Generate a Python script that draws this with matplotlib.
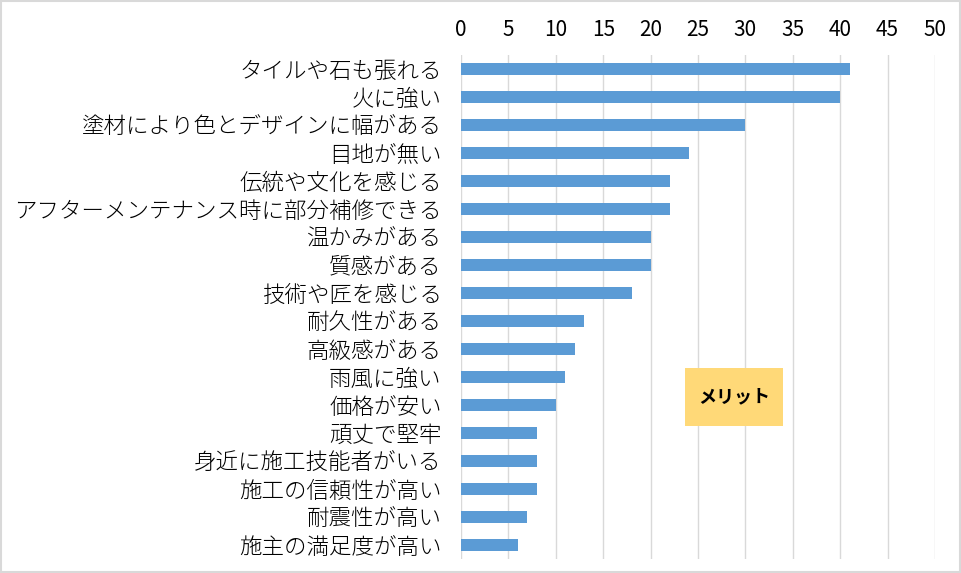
import matplotlib.pyplot as plt
from matplotlib.patches import Rectangle

plt.rcParams['font.family'] = ['Noto Sans CJK JP', 'DejaVu Sans']

labels = [
    "タイルや石も張れる", "火に強い", "塗材により色とデザインに幅がある", "目地が無い",
    "伝統や文化を感じる", "アフターメンテナンス時に部分補修できる", "温かみがある", "質感がある",
    "技術や匠を感じる", "耐久性がある", "高級感がある", "雨風に強い", "価格が安い",
    "頑丈で堅牢", "身近に施工技能者がいる", "施工の信頼性が高い", "耐震性が高い", "施主の満足度が高い",
]
values = [41, 40, 30, 24, 22, 22, 20, 20, 18, 13, 12, 11, 10, 8, 8, 8, 7, 6]
xticks = list(range(0, 51, 5))

fig = plt.figure(figsize=(9.61, 5.73), dpi=100)
ax = fig.add_axes([461 / 961, 14 / 573, 474 / 961, 504 / 573])

y = list(range(len(labels)))
ax.barh(y, values, height=0.4, color='#5B9BD5', zorder=3)
ax.set_ylim(len(labels) - 0.5, -0.5)
ax.set_xlim(0, 50)
ax.set_xticks(xticks)
ax.set_yticks(y)
ax.set_yticklabels(labels, fontsize=16.2, fontweight='light')
ax.xaxis.tick_top()
ax.tick_params(axis='x', length=0, labelsize=15, pad=10)
ax.tick_params(axis='y', length=0, pad=14)
ax.grid(axis='x', color='#D9D9D9', linewidth=1, zorder=0)
for s in ax.spines.values():
    s.set_visible(False)

# annotation box
ax.add_patch(Rectangle((23.6, 10.68), 10.4, 2.07, facecolor='#FFD978', edgecolor='none', zorder=5))
ax.text(28.8, 11.7, "メリット", fontsize=13, fontweight='bold', ha='center', va='center', zorder=6)

fig.patches.append(Rectangle((0.001, 0.002), 0.998, 0.996, transform=fig.transFigure,
                             fill=False, edgecolor='#D9D9D9', linewidth=1.5))

fig.savefig('out.png', dpi=100)
